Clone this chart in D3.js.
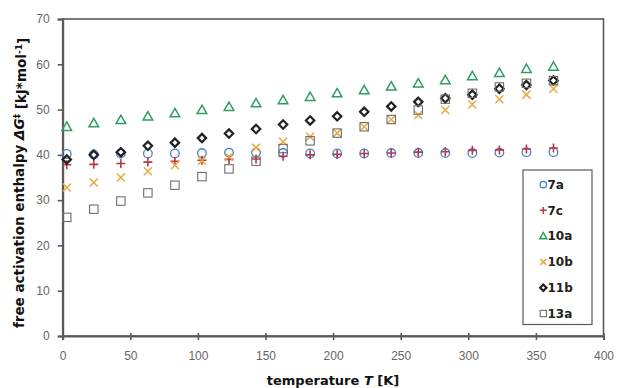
<!DOCTYPE html>
<html><head><meta charset="utf-8">
<script src="https://cdn.jsdelivr.net/npm/d3@7"></script>
<style>body{margin:0;background:#fff}svg{display:block}</style>
</head><body>
<svg id="c" width="617" height="388"></svg>
<script>
const temps = [3, 23, 43, 63, 83, 103, 123, 143, 163, 183, 203, 223, 243, 263, 283, 303, 323, 343, 363];
const s7a  = [40.2, 40.1, 40.3, 40.3, 40.3, 40.4, 40.5, 40.5, 40.4, 40.3, 40.3, 40.3, 40.4, 40.4, 40.4, 40.4, 40.5, 40.6, 40.6];
const s7c  = [37.8, 37.9, 38.1, 38.4, 38.6, 38.8, 39.0, 39.1, 39.7, 40.0, 40.1, 40.3, 40.4, 40.6, 40.7, 41.0, 41.1, 41.3, 41.5];
const s10a = [46.2, 47.0, 47.7, 48.5, 49.2, 49.9, 50.6, 51.4, 52.1, 52.8, 53.6, 54.3, 55.1, 55.8, 56.5, 57.4, 58.1, 59.0, 59.5];
const s10b = [32.8, 33.9, 35.0, 36.4, 37.7, 38.7, 39.6, 41.6, 42.9, 44.0, 44.8, 46.2, 47.8, 48.8, 49.9, 51.1, 52.3, 53.3, 54.6];
const s11b = [39.0, 40.0, 40.6, 42.0, 42.7, 43.7, 44.7, 45.7, 46.7, 47.6, 48.5, 49.5, 50.7, 51.7, 52.5, 53.3, 54.6, 55.4, 56.4];
const s13a = [26.2, 28.0, 29.8, 31.6, 33.3, 35.2, 36.9, 38.6, 41.4, 43.1, 44.8, 46.2, 47.8, 49.9, 52.3, 53.6, 55.0, 55.8, 56.4];
const seriesNames = ["7a", "7c", "10a", "10b", "11b", "13a"];
const xTicks = [0, 50, 100, 150, 200, 250, 300, 350, 400];
const yTicks = [0, 10, 20, 30, 40, 50, 60, 70];

const series = [
  {name: "7a",  values: s7a,  color: "#4a7fc1", shape: "circle"},
  {name: "7c",  values: s7c,  color: "#b03a48", shape: "plus"},
  {name: "10a", values: s10a, color: "#2e9e62", shape: "triangle"},
  {name: "10b", values: s10b, color: "#e9a940", shape: "x"},
  {name: "11b", values: s11b, color: "#222222", shape: "diamond"},
  {name: "13a", values: s13a, color: "#6e6e6e", shape: "square"}
];

const svg = d3.select("#c");
const x = d3.scaleLinear().domain([0, 400]).range([62.7, 603.5]);
const y = d3.scaleLinear().domain([0, 70]).range([336, 19]);
const axisColor = "#5a5a5a";

// frame
svg.append("rect").attr("x", x(0)).attr("y", y(70)).attr("width", x(400) - x(0)).attr("height", y(0) - y(70))
  .attr("fill", "none").attr("stroke", axisColor).attr("stroke-width", 1.6);

const font = "'Liberation Sans', Arial, sans-serif";
const bfont = "'DejaVu Sans', sans-serif";
const xa = svg.append("g").attr("transform", `translate(0,${y(0)})`)
  .call(d3.axisBottom(x).tickValues(xTicks).tickSize(4).tickPadding(11));
xa.selectAll(".tick line").attr("y1", -3);
const ya = svg.append("g").attr("transform", `translate(${x(0)},0)`)
  .call(d3.axisLeft(y).tickValues(yTicks).tickSize(5).tickPadding(8));
[xa, ya].forEach(g => {
  g.select(".domain").attr("stroke", axisColor).attr("stroke-width", 2);
  g.selectAll(".tick line").attr("stroke", axisColor).attr("stroke-width", 1.6);
  g.selectAll(".tick text").attr("fill", "#666").style("font-family", font).style("font-size", "12px");
});

function drawMarker(g, shape, color, k) {
  const sw = 1.3;
  if (shape === "circle") {
    g.append("circle").attr("r", 4.3 * k).attr("fill", "none").attr("stroke", color).attr("stroke-width", sw);
  } else if (shape === "plus") {
    const a = 4.5 * k;
    g.append("path").attr("d", `M${-a},0H${a}M0,${-a}V${a}`).attr("stroke", color).attr("stroke-width", 1.6);
  } else if (shape === "triangle") {
    const a = 4.8 * k, b = 3.6 * k;
    g.append("path").attr("d", `M0,${-a}L${a},${b}L${-a},${b}Z`).attr("fill", "none").attr("stroke", color).attr("stroke-width", 1.5);
  } else if (shape === "x") {
    const a = 4 * k;
    g.append("path").attr("d", `M${-a},${-a}L${a},${a}M${-a},${a}L${a},${-a}`).attr("stroke", color).attr("stroke-width", 1.5);
  } else if (shape === "diamond") {
    const a = 4.2 * k;
    g.append("path").attr("d", `M0,${-a}L${a},0L0,${a}L${-a},0Z`).attr("fill", "none").attr("stroke", color).attr("stroke-width", 2.2);
  } else if (shape === "square") {
    const a = 4.2 * k;
    g.append("rect").attr("x", -a).attr("y", -a).attr("width", 2 * a).attr("height", 2 * a).attr("fill", "none").attr("stroke", color).attr("stroke-width", 1.1);
  }
}

series.forEach(s => {
  const gs = svg.append("g");
  s.values.forEach((v, i) => {
    const g = gs.append("g").attr("transform", `translate(${x(temps[i])},${y(v)})`);
    drawMarker(g, s.shape, s.color, 1);
  });
});

// legend
const lg = svg.append("g");
lg.append("rect").attr("x", 523).attr("y", 170).attr("width", 69).attr("height", 154.5)
  .attr("fill", "#fff").attr("stroke", axisColor).attr("stroke-width", 1.2);
series.forEach((s, i) => {
  const yy = 184.5 + i * 25.8;
  const g = lg.append("g").attr("transform", `translate(543.3,${yy})`);
  drawMarker(g, s.shape, s.color, 0.75);
  lg.append("text").attr("x", 547.5).attr("y", yy).attr("dy", "0.36em")
    .style("font-family", bfont).style("font-size", "12px").style("font-weight", "bold").attr("fill", "#222")
    .text(seriesNames[i]);
});

// axis titles
const xt = svg.append("text").attr("x", 333).attr("y", 385).attr("text-anchor", "middle")
  .style("font-family", bfont).style("font-size", "13px").style("font-weight", "bold").attr("fill", "#111");
xt.append("tspan").text("temperature ");
xt.append("tspan").style("font-style", "italic").text("T");
xt.append("tspan").text(" [K]");

const yt = svg.append("text").attr("transform", "translate(24,183) rotate(-90)").attr("text-anchor", "middle")
  .style("font-family", bfont).style("font-size", "13.5px").style("font-weight", "bold").attr("fill", "#111");
yt.append("tspan").text("free activation enthalpy ");
yt.append("tspan").style("font-style", "italic").text("ΔG");
yt.append("tspan").attr("dy", "-0.45em").style("font-size", "9px").text("‡");
yt.append("tspan").attr("dy", "0.45em").text(" [kJ*mol");
yt.append("tspan").attr("dy", "-0.45em").style("font-size", "9px").text("-1");
yt.append("tspan").attr("dy", "0.45em").text("]");
</script>
</body></html>
